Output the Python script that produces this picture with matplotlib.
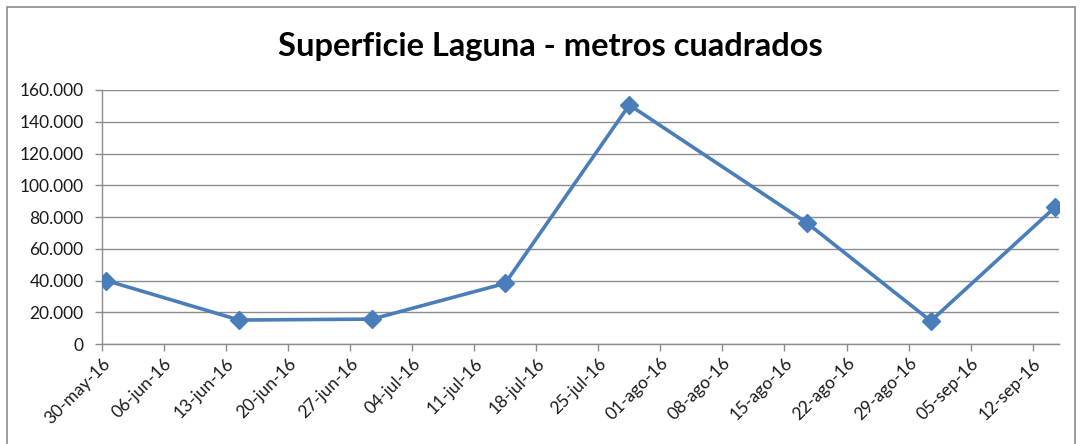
import matplotlib
matplotlib.use("Agg")
from matplotlib import pyplot as plt
from matplotlib.patches import Rectangle
from matplotlib.ticker import FuncFormatter
import pandas as pd

# fechas de medición y superficie de la laguna (m2)
fechas = ["2016-05-30", "2016-06-14", "2016-06-29", "2016-07-14",
          "2016-07-28", "2016-08-17", "2016-08-31", "2016-09-14"]
superficie = [40000, 15100, 15700, 38200, 150600, 76400, 14500, 86100]

tick_fechas = pd.date_range("2016-05-30", "2016-09-12", freq="7D")
tick_labels = ["30-may-16", "06-jun-16", "13-jun-16", "20-jun-16", "27-jun-16",
               "04-jul-16", "11-jul-16", "18-jul-16", "25-jul-16", "01-ago-16",
               "08-ago-16", "15-ago-16", "22-ago-16", "29-ago-16", "05-sep-16",
               "12-sep-16"]
y_ticks = [0, 20000, 40000, 60000, 80000, 100000, 120000, 140000, 160000]

plt.rcParams["font.family"] = ["Lato", "DejaVu Sans"]

fig = plt.figure(figsize=(10.81, 4.44), dpi=100)
ax = fig.add_axes([0.0941, 0.2252, 0.8859, 0.5721])

# Excel centra el punto en el día
x = pd.to_datetime(fechas) + pd.Timedelta(hours=12)
ax.plot(x, superficie, color="#4A7EBB", lw=2.6, marker="D", ms=9,
        solid_joinstyle="round", zorder=3)

ax.set_xlim(pd.Timestamp("2016-05-30"), pd.Timestamp("2016-09-15"))
ax.set_ylim(0, 160000)
ax.set_xticks(tick_fechas)
ax.set_xticklabels(tick_labels, rotation=45, ha="right", rotation_mode="anchor")
ax.set_yticks(y_ticks)
ax.yaxis.set_major_formatter(FuncFormatter(lambda v, p: f"{int(v):,}".replace(",", ".")))

ax.grid(axis="y", color="#8C8C8C", lw=1)
ax.set_axisbelow(True)
for s in ["top", "right"]:
    ax.spines[s].set_visible(False)
for s in ["left", "bottom"]:
    ax.spines[s].set_color("#8C8C8C")
    ax.spines[s].set_linewidth(1)
ax.tick_params(axis="both", colors="#8C8C8C", labelcolor="#1A1A1A",
               labelsize=12.5, length=5, width=1)
ax.tick_params(axis="y", pad=8)
ax.tick_params(axis="x", pad=3)

fig.text(0.509, 0.895, "Superficie Laguna - metros cuadrados", ha="center",
         va="center", fontsize=23.5, fontweight="bold", color="black")

fig.add_artist(Rectangle((7 / 1081, -0.1), 1068 / 1081, 1.1 - 7 / 444,
                         transform=fig.transFigure, fill=False,
                         edgecolor="#8C8C8C", lw=1.2))

fig.savefig("out.png", dpi=100)
